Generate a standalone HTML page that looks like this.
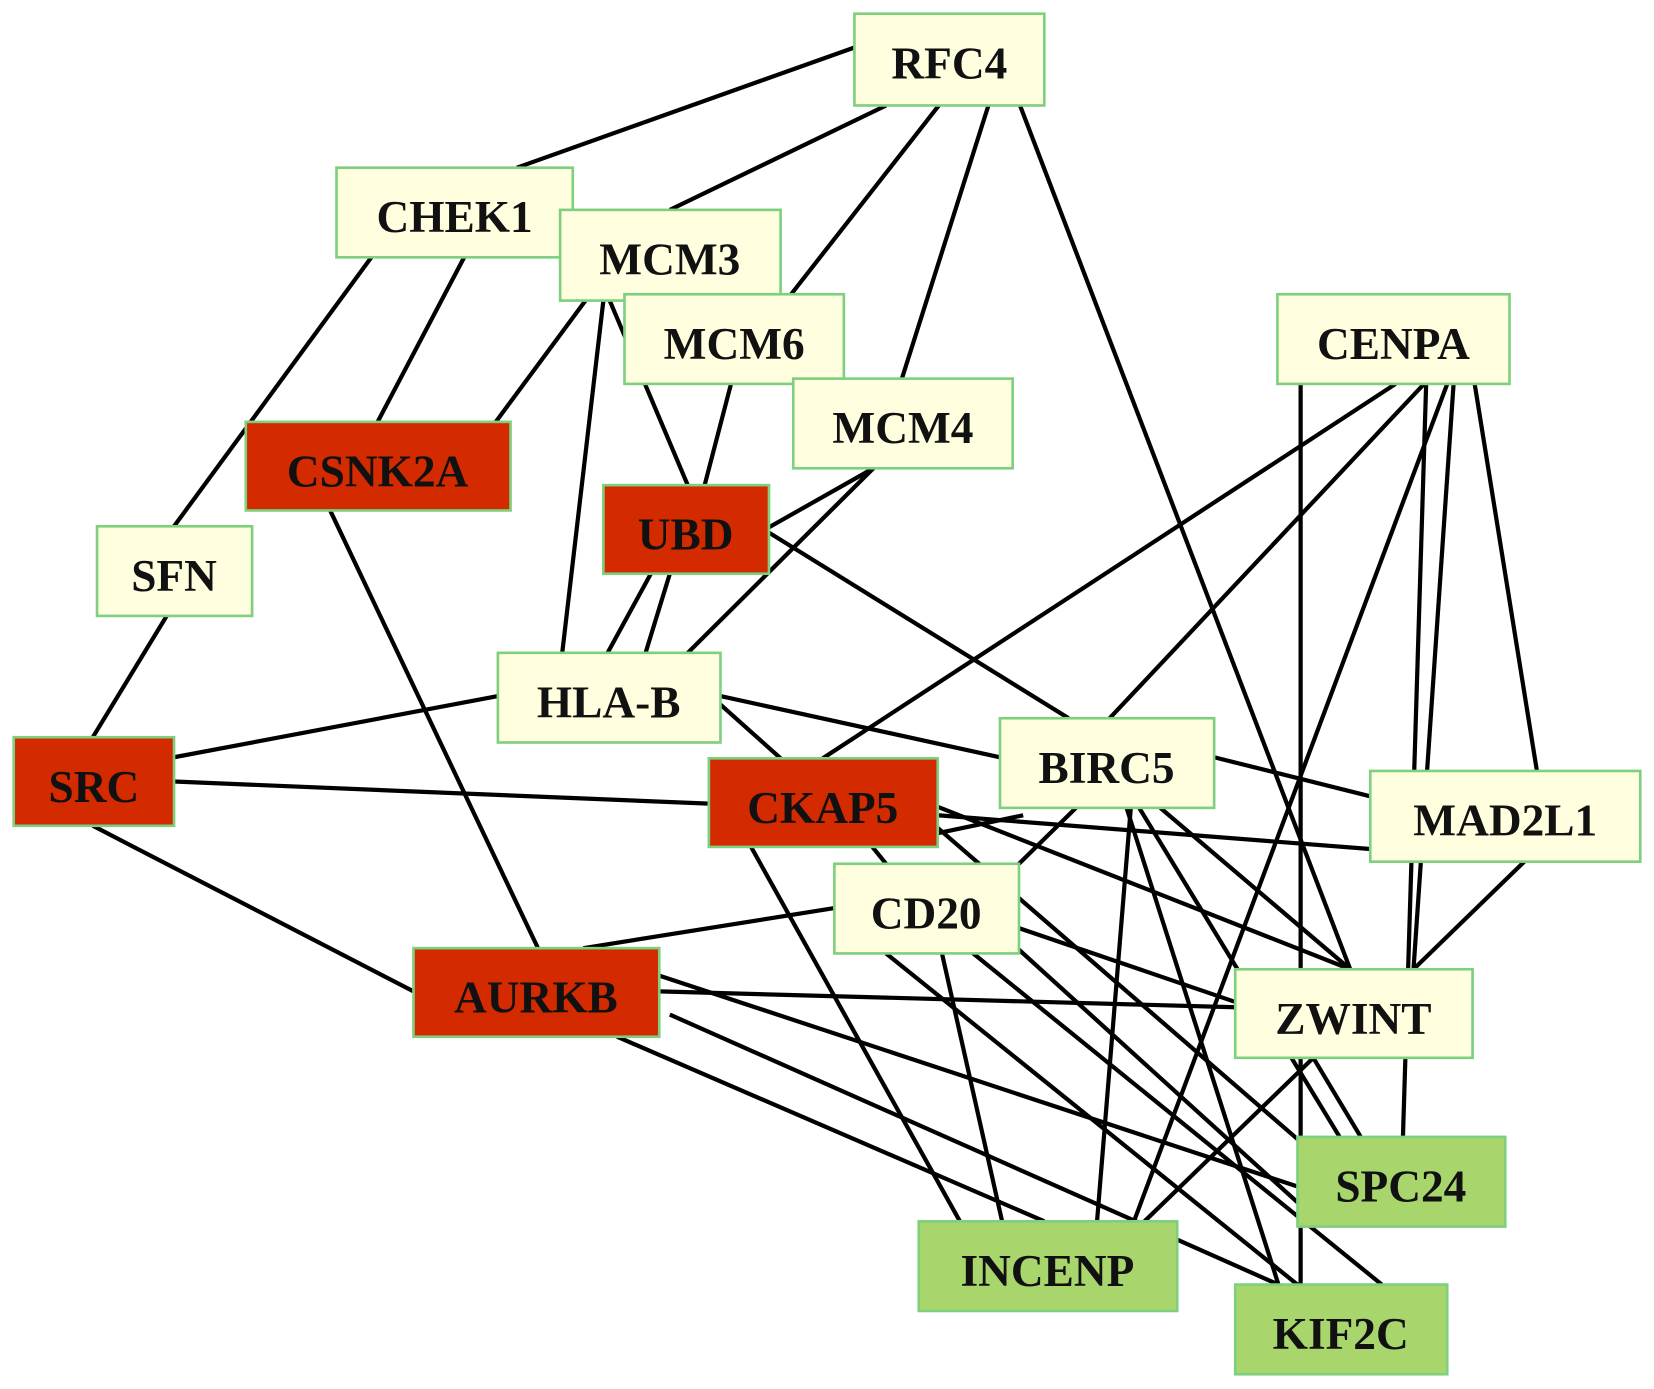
<!DOCTYPE html>
<html><head><meta charset="utf-8"><style>
html,body{margin:0;padding:0;background:#fff;width:1654px;height:1389px;overflow:hidden}
svg{display:block}
text{font-family:"Liberation Serif",serif;font-weight:bold;font-size:43px;fill:#111;stroke:none;text-anchor:middle;dominant-baseline:central}
</style></head><body>
<svg width="1654" height="1389" viewBox="0 0 1568 1317" preserveAspectRatio="none">
<g stroke="#000" stroke-width="4" fill="none">
<line x1="810" y1="45" x2="490" y2="159"/>
<line x1="840" y1="100" x2="635" y2="199"/>
<line x1="890" y1="100" x2="750" y2="279"/>
<line x1="937" y1="100" x2="855" y2="359"/>
<line x1="967" y1="100" x2="1280" y2="919"/>
<line x1="352" y1="244" x2="165" y2="499"/>
<line x1="440" y1="244" x2="358" y2="400"/>
<line x1="555" y1="285" x2="470" y2="400"/>
<line x1="572" y1="285" x2="533" y2="619"/>
<line x1="578" y1="285" x2="652" y2="460"/>
<line x1="693" y1="364" x2="668" y2="460"/>
<line x1="828" y1="444" x2="729" y2="500"/>
<line x1="828" y1="444" x2="652" y2="619"/>
<line x1="617" y1="544" x2="576" y2="619"/>
<line x1="635" y1="544" x2="612" y2="619"/>
<line x1="729" y1="505" x2="1013" y2="681"/>
<line x1="158" y1="584" x2="88" y2="699"/>
<line x1="313" y1="484" x2="510" y2="899"/>
<line x1="472" y1="660" x2="165" y2="718"/>
<line x1="683" y1="660" x2="948" y2="718"/>
<line x1="683" y1="668" x2="740" y2="719"/>
<line x1="165" y1="741" x2="672" y2="762"/>
<line x1="88" y1="783" x2="392" y2="940"/>
<line x1="1323" y1="364" x2="780" y2="719"/>
<line x1="1350" y1="364" x2="1052" y2="681"/>
<line x1="1233" y1="364" x2="1233" y2="1218"/>
<line x1="1398" y1="364" x2="1457" y2="731"/>
<line x1="1352" y1="364" x2="1330" y2="1078"/>
<line x1="1372" y1="364" x2="1075" y2="1158"/>
<line x1="1378" y1="364" x2="1340" y2="919"/>
<line x1="1151" y1="718" x2="1299" y2="755"/>
<line x1="1020" y1="766" x2="966" y2="819"/>
<line x1="1100" y1="766" x2="1280" y2="919"/>
<line x1="1072" y1="766" x2="1040" y2="1158"/>
<line x1="1080" y1="766" x2="1270" y2="1078"/>
<line x1="1068" y1="766" x2="1212" y2="1218"/>
<line x1="970" y1="773" x2="889" y2="790"/>
<line x1="889" y1="773" x2="1299" y2="805"/>
<line x1="889" y1="765" x2="1280" y2="919"/>
<line x1="712" y1="803" x2="910" y2="1158"/>
<line x1="827" y1="803" x2="840" y2="819"/>
<line x1="889" y1="785" x2="1230" y2="1080"/>
<line x1="1445" y1="817" x2="1340" y2="919"/>
<line x1="791" y1="861" x2="553" y2="899"/>
<line x1="893" y1="904" x2="950" y2="1158"/>
<line x1="840" y1="904" x2="1230" y2="1218"/>
<line x1="960" y1="895" x2="1230" y2="1140"/>
<line x1="966" y1="880" x2="1171" y2="950"/>
<line x1="893" y1="880" x2="1310" y2="1218"/>
<line x1="625" y1="940" x2="1171" y2="955"/>
<line x1="625" y1="925" x2="1230" y2="1125"/>
<line x1="635" y1="962" x2="1212" y2="1218"/>
<line x1="585" y1="983" x2="990" y2="1158"/>
<line x1="1245" y1="1003" x2="1085" y2="1158"/>
<line x1="1245" y1="1003" x2="1290" y2="1078"/>
</g>
<g stroke="#7ecf7e" stroke-width="2.5">
<rect x="810" y="13" width="180" height="87" fill="#ffffe0"/>
<rect x="319" y="159" width="224" height="85" fill="#ffffe0"/>
<rect x="531" y="199" width="209" height="86" fill="#ffffe0"/>
<rect x="592" y="279" width="208" height="85" fill="#ffffe0"/>
<rect x="752" y="359" width="208" height="85" fill="#ffffe0"/>
<rect x="1211" y="279" width="220" height="85" fill="#ffffe0"/>
<rect x="233" y="400" width="251" height="84" fill="#d42a00"/>
<rect x="572" y="460" width="157" height="84" fill="#d42a00"/>
<rect x="92" y="499" width="147" height="85" fill="#ffffe0"/>
<rect x="472" y="619" width="211" height="85" fill="#ffffe0"/>
<rect x="13" y="699" width="152" height="84" fill="#d42a00"/>
<rect x="672" y="719" width="217" height="84" fill="#d42a00"/>
<rect x="948" y="681" width="203" height="85" fill="#ffffe0"/>
<rect x="1299" y="731" width="256" height="86" fill="#ffffe0"/>
<rect x="791" y="819" width="175" height="85" fill="#ffffe0"/>
<rect x="392" y="899" width="233" height="84" fill="#d42a00"/>
<rect x="1171" y="919" width="225" height="84" fill="#ffffe0"/>
<rect x="1230" y="1078" width="197" height="85" fill="#a8d66c"/>
<rect x="871" y="1158" width="245" height="85" fill="#a8d66c"/>
<rect x="1171" y="1218" width="201" height="85" fill="#a8d66c"/>
</g>
<g>
<text x="900" y="60">RFC4</text>
<text x="431" y="206">CHEK1</text>
<text x="635" y="246">MCM3</text>
<text x="696" y="326">MCM6</text>
<text x="856" y="406">MCM4</text>
<text x="1321" y="326">CENPA</text>
<text x="358" y="447">CSNK2A</text>
<text x="650" y="507">UBD</text>
<text x="165" y="546">SFN</text>
<text x="577" y="666">HLA-B</text>
<text x="89" y="746">SRC</text>
<text x="780" y="766">CKAP5</text>
<text x="1049" y="728">BIRC5</text>
<text x="1427" y="778">MAD2L1</text>
<text x="878" y="866">CD20</text>
<text x="508" y="946">AURKB</text>
<text x="1283" y="966">ZWINT</text>
<text x="1328" y="1125">SPC24</text>
<text x="993" y="1205">INCENP</text>
<text x="1271" y="1265">KIF2C</text>
</g>
</svg>
</body></html>
